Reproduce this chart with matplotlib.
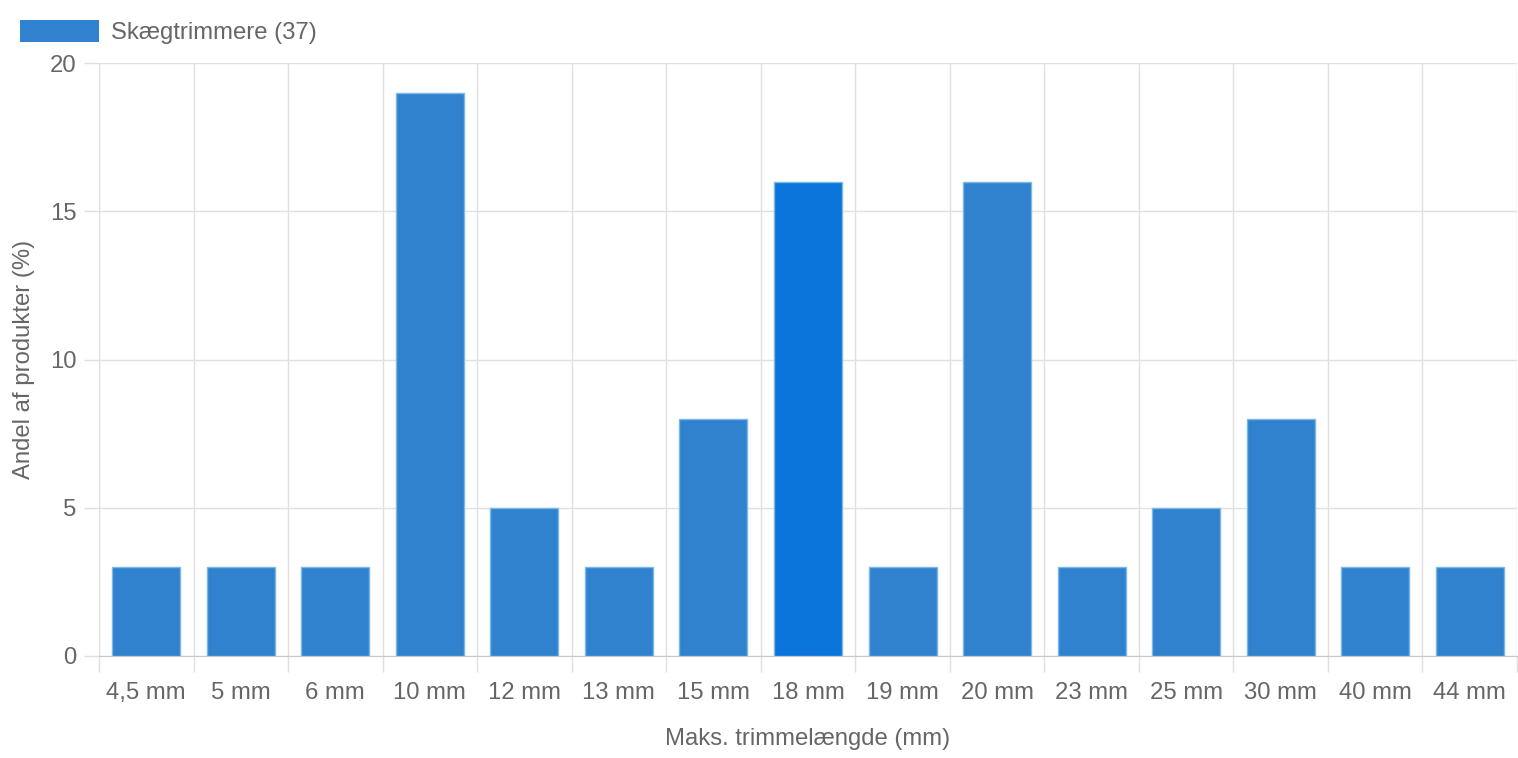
import matplotlib.pyplot as plt
from matplotlib.patches import Patch

plt.rcParams['font.family'] = ['Liberation Sans', 'DejaVu Sans']

labels = ["4,5 mm", "5 mm", "6 mm", "10 mm", "12 mm", "13 mm", "15 mm", "18 mm",
          "19 mm", "20 mm", "23 mm", "25 mm", "30 mm", "40 mm", "44 mm"]
values = [3, 3, 3, 19, 5, 3, 8, 16, 3, 16, 3, 5, 8, 3, 3]
highlight = "18 mm"

base_color = "#3182ce"
hl_color = "#0b74da"
text_color = "#666666"
grid_color = "#e0e0e0"
fs = 17.2

fig = plt.figure(figsize=(15.18, 7.58), dpi=100)
ax = fig.add_axes([99 / 1518, 1 - 656 / 758, 1 - 99 / 1518 - 1 / 1518, (656 - 63) / 758])

colors = [hl_color if l == highlight else base_color for l in labels]
x = list(range(len(labels)))
ax.bar(x, values, width=0.72, color=colors, edgecolor="#7ab8ea", linewidth=1, zorder=3)

ax.set_xlim(-0.5, len(labels) - 0.5)
ax.set_ylim(0, 20)
ax.set_yticks([0, 5, 10, 15, 20])
ax.set_xticks(x)
ax.set_xticklabels(labels)
ax.set_xticks([i - 0.5 for i in range(len(labels) + 1)], minor=True)

ax.tick_params(axis="x", which="major", length=0, pad=18.5, labelsize=fs, labelcolor=text_color)
ax.tick_params(axis="x", which="minor", length=11.5, color=grid_color, width=1)
ax.tick_params(axis="y", length=11, color=grid_color, width=1, pad=5, labelsize=fs, labelcolor=text_color)

ax.grid(True, axis="x", which="minor", color=grid_color, linewidth=1, zorder=0)
ax.grid(True, axis="y", which="major", color=grid_color, linewidth=1, zorder=0)

for s in ["top", "right"]:
    ax.spines[s].set_visible(False)
ax.spines["left"].set_color(grid_color)
ax.spines["bottom"].set_color("#c8c8c8")

ax.set_xlabel("Maks. trimmelængde (mm)", color=text_color, fontsize=fs, labelpad=17.5)
ax.set_ylabel("Andel af produkter (%)", color=text_color, fontsize=fs, labelpad=11)

handle = Patch(facecolor=base_color, edgecolor="none")
fig.legend([handle], ["Skægtrimmere (37)"], loc="upper left",
           bbox_to_anchor=(20 / 1518, 1 - 20 / 758), frameon=False,
           handlelength=3.3, handleheight=1.05, handletextpad=0.5,
           borderpad=0, borderaxespad=0, fontsize=fs, labelcolor=text_color)

fig.savefig("out.png", dpi=100)
